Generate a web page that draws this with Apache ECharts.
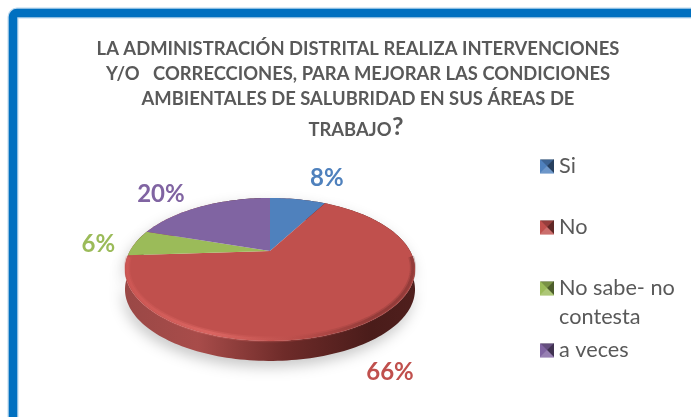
<!DOCTYPE html>
<html>
<head>
<meta charset="utf-8">
<style>
  html, body { margin: 0; padding: 0; background: #fff; }
  #chart { width: 691px; height: 417px; }
</style>
<script src="https://cdn.jsdelivr.net/npm/echarts@6/dist/echarts.min.js"></script>
</head>
<body>
<div id="chart"></div>
<script>
  var categories = ['Si', 'No', 'No sabe- no contesta', 'a veces']
  var values = [8, 66, 6, 20]
  var titleLines = [
    'LA ADMINISTRACIÓN DISTRITAL REALIZA INTERVENCIONES',
    'Y/O   CORRECCIONES, PARA MEJORAR LAS CONDICIONES',
    'AMBIENTALES DE SALUBRIDAD EN SUS ÁREAS DE',
    'TRABAJO',
  ]

  var colors = ['#4f81bd', '#c0504d', '#9bbb59', '#8064a2']
  // label nudges from the rim point at each slice's middle, px
  var labelNudge = [[29, -21], [24, 49], [-37, 1], [-41, -12]]
  var fontName = 'Lato'

  // tilted disc: the apex sits above the middle of the ellipse
  var tilt = 0.2587
  var depth = 0.3

  var total = values.reduce(function (a, b) {
    return a + b
  }, 0)

  function project(angle, r) {
    var u = Math.sin(angle) * r
    var v = -Math.cos(angle) * r
    var w = 1 - tilt * v
    return [(u / w) * 0.966, v / w]
  }

  function sliceAngles(index) {
    var before = 0
    for (var i = 0; i < index; i++) before += values[i]
    return [
      (before / total) * Math.PI * 2,
      ((before + values[index]) / total) * Math.PI * 2,
    ]
  }

  function arcPoints(index) {
    var a = sliceAngles(index)
    var n = Math.max(8, Math.round((a[1] - a[0]) * 40))
    var pts = []
    for (var i = 0; i <= n; i++) {
      pts.push(project(a[0] + ((a[1] - a[0]) * i) / n, 1))
    }
    return pts
  }

  function wallSeries(index) {
    return {
      type: 'custom',
      name: categories[index],
      coordinateSystem: 'cartesian2d',
      silent: true,
      z: 1,
      data: [values[index]],
      renderItem: function (params, api) {
        var top = arcPoints(index)
        var low = top
          .slice()
          .reverse()
          .map(function (p) {
            return [p[0], p[1] + depth]
          })
        var pts = top.concat(low).map(function (p) {
          return api.coord(p)
        })
        return {
          type: 'polygon',
          shape: { points: pts },
          style: {
            fill: new echarts.graphic.LinearGradient(0, 0, 1, 0, [
              { offset: 0, color: '#9a4846' },
              { offset: 0.25, color: '#a84c4a' },
              { offset: 0.55, color: '#6e2b29' },
              { offset: 0.85, color: '#4a1c1a' },
              { offset: 1, color: '#4f1f1d' },
            ]),
            shadowBlur: 14,
            shadowColor: 'rgba(0,0,0,0.22)',
            shadowOffsetX: -2,
            shadowOffsetY: 6,
          },
        }
      },
    }
  }

  function bevelLine(points, width, alpha) {
    return {
      type: 'polyline',
      shape: { points: points },
      style: {
        fill: 'none',
        lineWidth: width,
        opacity: alpha,
        stroke: new echarts.graphic.LinearGradient(0, 0, 1, 0, [
          { offset: 0, color: '#d25a57' },
          { offset: 0.3, color: '#e8706c' },
          { offset: 0.6, color: '#b84c49' },
          { offset: 0.85, color: '#7c312f' },
          { offset: 1, color: '#7c312f' },
        ]),
      },
    }
  }

  function faceSeries(index) {
    return {
      type: 'custom',
      name: categories[index],
      coordinateSystem: 'cartesian2d',
      silent: true,
      z: 2,
      data: [values[index]],
      renderItem: function (params, api) {
        var rim = arcPoints(index)
        var a = sliceAngles(index)
        var mid = project((a[0] + a[1]) / 2, 1)
        var nudge = labelNudge[index]
        var anchor = api.coord(mid)
        var pts = [[0, 0]].concat(rim).map(function (p) {
          return api.coord(p)
        })
        // soft bevel along the front edge of the disc
        var bevel = rim
          .filter(function (p) {
            return p[1] > 0.1
          })
          .map(function (p) {
            return api.coord([p[0] * 0.985, p[1] - 0.025])
          })
        var children = [
          {
            type: 'polygon',
            shape: { points: pts },
            style: { fill: colors[index] },
          },
          {
            type: 'text',
            x: anchor[0] + nudge[0],
            y: anchor[1] + nudge[1],
            style: {
              text: Math.round((values[index] / total) * 100) + '%',
              fill: colors[index],
              font: 'bold 24px ' + fontName,
              align: 'center',
              verticalAlign: 'middle',
            },
          },
        ]
        if (bevel.length > 1) {
          children.push(bevelLine(bevel, 6, 0.3))
          children.push(bevelLine(bevel, 3, 0.5))
        }
        return { type: 'group', children: children }
      },
    }
  }

  function legendAt(index, top, text) {
    return {
      data: [categories[index]],
      left: 540,
      top: top,
      padding: 0,
      orient: 'vertical',
      icon: 'rect',
      itemWidth: 14,
      itemHeight: 14,
      itemGap: 0,
      selectedMode: false,
      formatter: text,
      textStyle: {
        color: '#595959',
        fontFamily: fontName,
        fontSize: 21.7,
        lineHeight: 29,
        padding: [0, 0, 0, 0],
      },
    }
  }

  // little pyramid facets on top of a legend square
  function iconFacets(y) {
    var x = 540
    var s = 14
    var m = 7
    var shapes = [
      { pts: [[x, y], [x + s, y], [x + m, y + m]], fill: 'rgba(0,0,0,0.22)' },
      { pts: [[x + s, y], [x + s, y + s], [x + m, y + m]], fill: 'rgba(0,0,0,0.5)' },
      { pts: [[x, y + s], [x + s, y + s], [x + m, y + m]], fill: 'rgba(255,255,255,0.18)' },
    ]
    return shapes.map(function (f) {
      return {
        type: 'polygon',
        silent: true,
        z: 10,
        shape: { points: f.pts },
        style: { fill: f.fill },
      }
    })
  }

  var chart = echarts.init(document.getElementById('chart'), null, { renderer: 'canvas' })
  var titleTops = [40, 65, 90, 121]
  var iconTops = [159, 220, 281, 343]
  var series = []
  categories.forEach(function (c, i) {
    series.push(wallSeries(i))
  })
  categories.forEach(function (c, i) {
    series.push(faceSeries(i))
  })

  var graphics = [
    {
      type: 'rect',
      silent: true,
      z: 9,
      shape: { x: 13, y: 13, width: 760, height: 500, r: 4 },
      style: { fill: 'none', stroke: '#bcd8ee', lineWidth: 11 },
    },
    {
      type: 'rect',
      silent: true,
      z: 10,
      shape: { x: 13, y: 13, width: 760, height: 500, r: 4 },
      style: { fill: 'none', stroke: '#0070c0', lineWidth: 8.5 },
    },
    {
      type: 'text',
      z: 10,
      silent: true,
      x: 392,
      y: 114,
      style: {
        text: '?',
        fill: '#595959',
        font: 'bold 25px ' + fontName,
      },
    },
  ]
  iconTops.forEach(function (y) {
    graphics = graphics.concat(iconFacets(y))
  })

  chart.setOption({
    animation: false,
    backgroundColor: '#fff',
    color: colors,
    title: titleLines.map(function (line, i) {
      return {
        text: line,
        left: i === 3 ? 350 : 358,
        top: titleTops[i],
        textAlign: 'center',
        padding: 0,
        textStyle: {
          color: '#595959',
          fontFamily: fontName,
          fontWeight: 'bold',
          fontSize: 18.4,
        },
      }
    }),
    legend: [
      legendAt(0, 152, 'Si'),
      legendAt(1, 213, 'No'),
      legendAt(2, 245, '\nNo sabe- no\ncontesta'),
      legendAt(3, 336, 'a veces'),
    ],
    grid: { left: 125, width: 290, top: 198, height: 163 },
    xAxis: { type: 'value', min: -1, max: 1, show: false },
    yAxis: { type: 'value', min: -0.794, max: 1.65, inverse: true, show: false },
    series: series,
    graphic: graphics,
  })
</script>
</body>
</html>
